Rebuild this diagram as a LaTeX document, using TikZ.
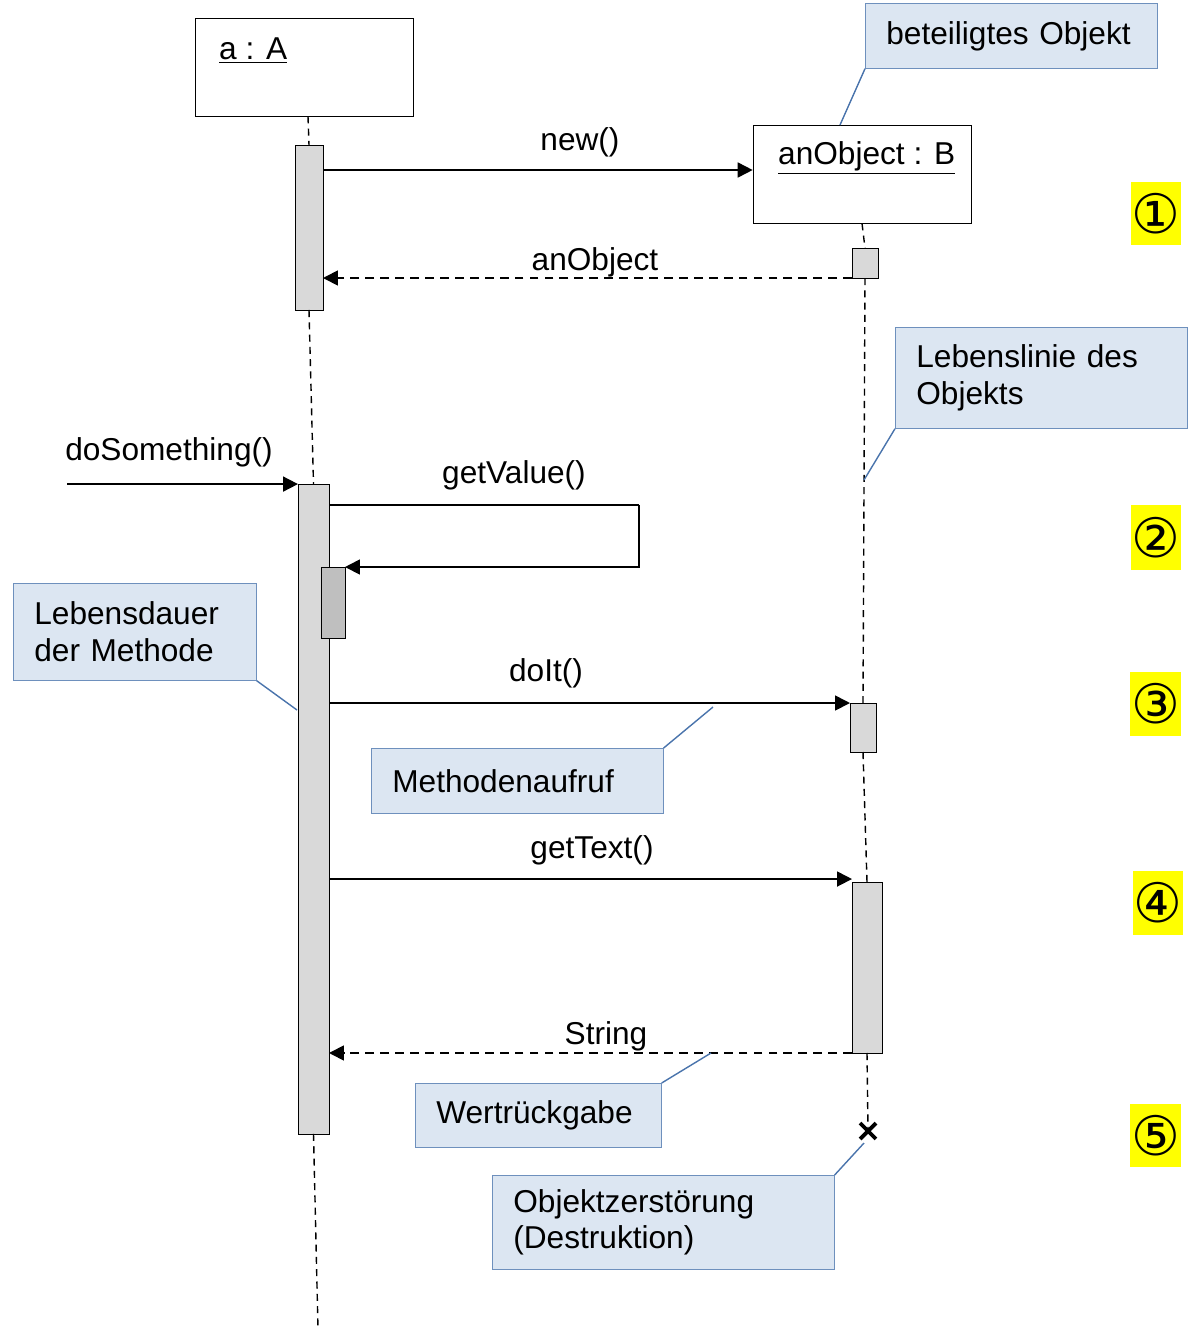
\documentclass[tikz,border=0pt]{standalone}
\usepackage{fontspec}
\setmainfont{Liberation Sans}
\newfontfamily\symfont{DejaVu Sans}
\usepackage{xcolor}
\usetikzlibrary{arrows.meta,positioning,calc,shapes.misc}
\definecolor{notefill}{HTML}{DCE6F2}
\definecolor{noteline}{HTML}{4A74AC}
\definecolor{actfill}{HTML}{D9D9D9}
\definecolor{actdark}{HTML}{BFBFBF}
\definecolor{marker}{HTML}{FFFF00}

\begin{document}
\begin{tikzpicture}[x=0.02cm, y=-0.02cm,
    every node/.style={font=\fontsize{18}{21}\selectfont},
    obj/.style={draw, thin, minimum width=4.36cm, minimum height=1.96cm, inner sep=0},
    act/.style={draw, thin, fill=actfill, inner sep=0, outer sep=0},
    note/.style={draw=noteline!80, fill=notefill, align=left, inner xsep=0.42cm, inner ysep=0, anchor=north west},
    hint/.style={draw=noteline, line width=0.8pt},
    msg/.style={-{Triangle[length=3mm,width=3mm]}, line width=1pt},
    reply/.style={msg, dash pattern=on 5pt off 3.5pt},
    life/.style={line width=0.8pt, dash pattern=on 4pt off 3pt},
    numbox/.style={fill=marker, inner sep=0, font=\symfont\fontsize{31}{31}\selectfont}]
    \useasboundingbox (0,0) rectangle (1192,1329);

    % objects
    \node[obj] (objA) at (304,67) {};
    \node[anchor=west] (nameA) at (213,51) {\underline{a : A}};
    \node[obj] (objB) at (862,174) {};
    \node[anchor=west] (nameB) at (772,158) {\underline{anObject : B}};

    % activations
    \node[act, minimum width=0.56cm, minimum height=3.3cm] (act1) at (309,227.5) {};
    \node[act, minimum width=0.62cm, minimum height=13cm] (act2) at (313.5,809) {};
    \node[act, fill=actdark, minimum width=0.48cm, minimum height=1.42cm] (act3) at (333,602.5) {};
    \node[act, minimum width=0.52cm, minimum height=0.6cm] (actB1) at (865,263) {};
    \node[act, minimum width=0.52cm, minimum height=0.98cm] (actB2) at (863,727.5) {};
    \node[act, minimum width=0.6cm, minimum height=3.42cm] (actB3) at (867,967.5) {};
    \node[draw, cross out, line width=2.2pt, minimum size=0.24cm, inner sep=0] (destroy) at (868,1131) {};

    % lifelines
    \coordinate (endA) at (318,1329);
    \draw[life] (objA.south -| 308,0) -- (act1.north);
    \draw[life] (act1.south) -- (act2.north);
    \draw[life] (act2.south) -- (endA);
    \draw[life] (objB.south) -- (actB1.north);
    \draw[life] (actB1.south) -- (actB2.north);
    \draw[life] (actB2.south) -- (actB3.north);
    \draw[life] (actB3.south) -- (destroy.center);

    % messages
    \coordinate (caller) at (67,484);
    \coordinate (loop) at (639,505);
    \coordinate (newEnd) at ($(objB.west)+(0,-4)$);
    \coordinate (textEnd) at ($(actB3.north west)+(0,-3)$);
    \draw[msg] (act1.east |- newEnd) -- (newEnd);
    \draw[reply] (actB1.south west) -- (act1.east |- actB1.south west);
    \draw[msg] (caller) -- (act2.north west);
    \draw[line width=0.6pt] (act2.east |- loop) -- (loop);
    \draw[msg] (loop) -- (loop |- act3.north east) -- (act3.north east);
    \draw[msg] (act2.east |- actB2.north west) -- (actB2.north west);
    \draw[msg] (act2.east |- textEnd) -- (textEnd);
    \draw[reply] (actB3.south west) -- (act2.east |- actB3.south west);

    \node (lblNew) at (580,142) {new()};
    \node (lblObj) at (595,262) {anObject};
    \node (lblDo) at (169,452) {doSomething()};
    \node (lblGet) at (514,475) {getValue()};
    \node (lblDoIt) at (546,673) {doIt()};
    \node (lblText) at (592,850) {getText()};
    \node (lblStr) at (606,1036) {String};

    % notes
    \node[note, text width=5cm, minimum height=1.3cm] (noteObj) at (865,3) {beteiligtes Objekt};
    \node[note, text width=5cm, minimum height=2.02cm] (noteLife) at (895,327) {Lebenslinie des\\Objekts};
    \node[note, text width=4.02cm, minimum height=1.94cm] (noteDur) at (13,583) {Lebensdauer\\der Methode};
    \node[note, text width=5cm, minimum height=1.3cm] (noteCall) at (371,748) {Methodenaufruf};
    \node[note, text width=4.08cm, minimum height=1.28cm] (noteRet) at (415,1083) {Wertrückgabe};
    \node[note, text width=6cm, minimum height=1.88cm] (noteDes) at (492,1175) {Objektzerstörung\\(Destruktion)};

    \coordinate (pObj) at (840,125);
    \coordinate (pLife) at (864,480);
    \coordinate (pDur) at (297,710);
    \coordinate (pCall) at (713,707);
    \coordinate (pRet) at (711,1053);
    \coordinate (pDes) at (864,1143);
    \draw[hint] (noteObj.south west) -- (pObj);
    \draw[hint] (noteLife.south west) -- (pLife);
    \draw[hint] (noteDur.south east) -- (pDur);
    \draw[hint] (noteCall.north east) -- (pCall);
    \draw[hint] (noteRet.north east) -- (pRet);
    \draw[hint] (noteDes.north east) -- (pDes);

    % steps
    \node[numbox, minimum width=1cm, minimum height=1.26cm] (step1) at (1156,213.5) {①};
    \node[numbox, minimum width=1cm, minimum height=1.3cm] (step2) at (1156,537.5) {②};
    \node[numbox, minimum width=1.02cm, minimum height=1.28cm] (step3) at (1155.5,704) {③};
    \node[numbox, minimum width=1cm, minimum height=1.28cm] (step4) at (1158,903) {④};
    \node[numbox, minimum width=1.02cm, minimum height=1.26cm] (step5) at (1155.5,1135.5) {⑤};
  \end{tikzpicture}
\end{document}
